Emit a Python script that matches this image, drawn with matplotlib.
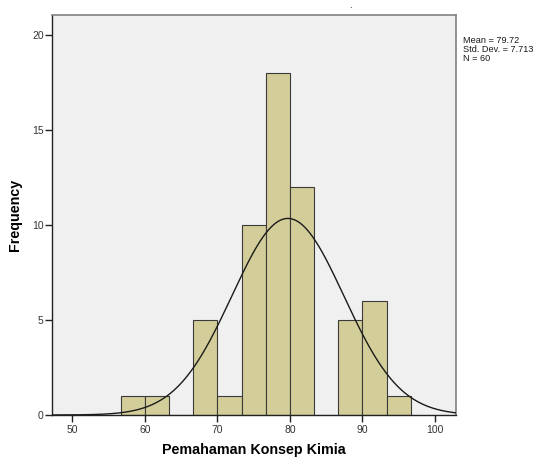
import matplotlib
matplotlib.use('Agg')
import matplotlib.pyplot as plt
import numpy as np

plt.rcParams['font.family'] = ['Liberation Sans', 'DejaVu Sans']

# histogram bins (SPSS style, width 10/3) and counts
bin_edges = [56.67, 60.0, 63.33, 66.67, 70.0, 73.33, 76.67, 80.0, 83.33, 86.67, 90.0, 93.33, 96.67]
counts = [1, 1, 0, 5, 1, 10, 18, 12, 0, 5, 6, 1]
mean = 79.72
std = 7.713
n = 60

x_ticks = [50, 60, 70, 80, 90, 100]
y_ticks = [0, 5, 10, 15, 20]

BAR_COLOR = '#d3ce99'
BG_COLOR = '#f0f0f0'

fig = plt.figure(figsize=(5.45, 4.58), dpi=100)
ax = fig.add_axes([0.0954, 0.0939, 0.7413, 0.8733])
ax.set_facecolor(BG_COLOR)

edges = np.array(bin_edges)
widths = np.diff(edges)
ax.bar(edges[:-1], counts, width=widths, align='edge', color=BAR_COLOR,
       edgecolor='#3a3a3a', linewidth=0.8, zorder=2)

# normal curve scaled to counts
bw = widths.mean()
xs = np.linspace(47.2, 102.9, 400)
ys = n * bw * np.exp(-0.5 * ((xs - mean) / std) ** 2) / (std * np.sqrt(2 * np.pi))
ax.plot(xs, ys, color='#1a1a1a', linewidth=1.0, zorder=3)

ax.set_xlim(47.2, 102.9)
ax.set_ylim(0, 21.05)
ax.set_xticks(x_ticks)
ax.set_yticks(y_ticks)
ax.tick_params(axis='both', direction='out', length=5, width=1, colors='#222222',
               labelsize=7.5, labelcolor='#333333')
ax.tick_params(axis='y', pad=1)
ax.tick_params(axis='x', pad=2)

for side in ['top', 'right']:
    ax.spines[side].set_color('#808080')
    ax.spines[side].set_linewidth(1.2)
for side in ['left', 'bottom']:
    ax.spines[side].set_color('#222222')
    ax.spines[side].set_linewidth(1.0)

ax.set_xlabel('Pemahaman Konsep Kimia', fontsize=10.3, fontweight='bold', labelpad=6)
ax.set_ylabel('Frequency', fontsize=10.3, fontweight='bold', labelpad=7)

fig.text(463 / 545, 1 - 36 / 458,
         'Mean = %.2f\nStd. Dev. = %.3f\nN = %d' % (mean, std, n),
         fontsize=6.6, va='top', ha='left', color='#1a1a1a', linespacing=1.0)
fig.text(350 / 545, 1 - 10 / 458, '.', fontsize=7, ha='center', va='bottom')

fig.savefig('out.png', dpi=100)
